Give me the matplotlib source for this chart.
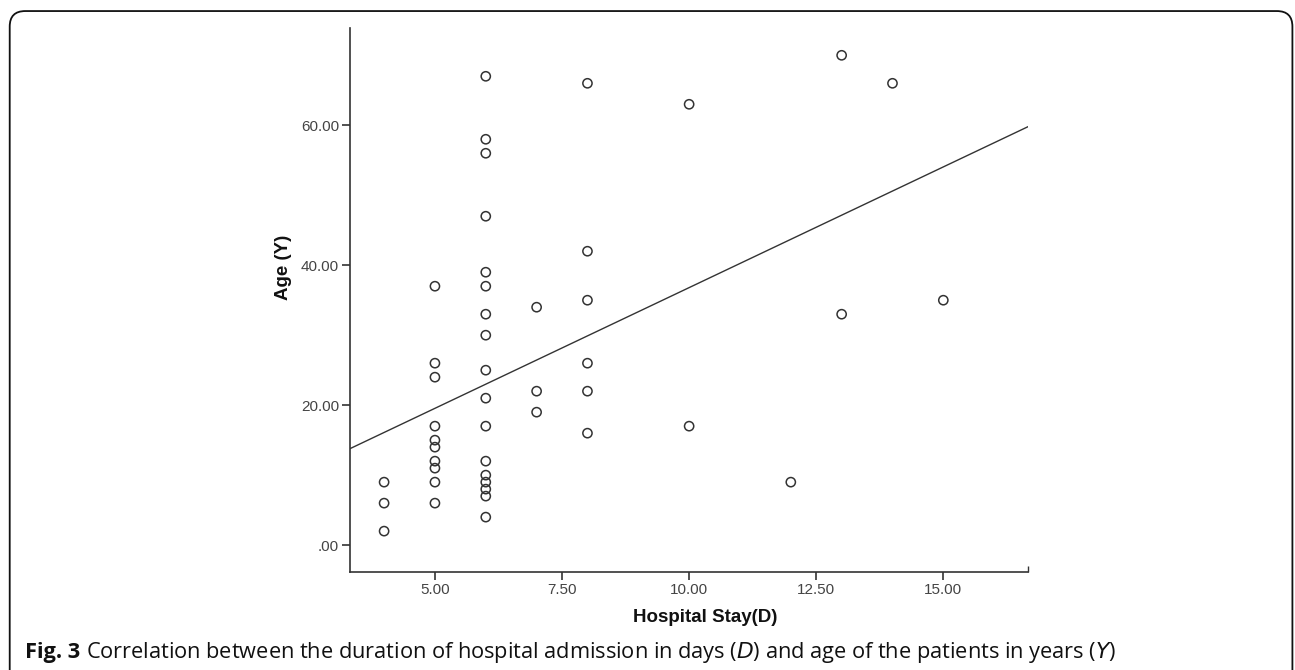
import matplotlib
matplotlib.use("Agg")
import matplotlib.pyplot as plt
from matplotlib.patches import FancyBboxPatch

# hospital stay (days) and age (years)
stay_days = [4, 4, 4,
             5, 5, 5, 5, 5, 5, 5, 5, 5, 5,
             6, 6, 6, 6, 6, 6, 6, 6, 6, 6, 6, 6, 6, 6, 6, 6, 6,
             7, 7, 7,
             8, 8, 8, 8, 8, 8,
             10, 10, 12, 13, 13, 14, 15]
age_years = [9, 6, 2,
             37, 26, 24, 17, 15, 14, 12, 11, 9, 6,
             67, 58, 56, 47, 39, 37, 33, 30, 25, 21, 17, 12, 10, 9, 8, 7, 4,
             34, 22, 19,
             66, 42, 35, 26, 22, 16,
             63, 17, 9, 70, 33, 66, 35]

# fit line as drawn in the figure
fit_intercept = 2.3
fit_slope = 3.45

x_ticks = [5, 7.5, 10, 12.5, 15]
x_tick_labels = ["5.00", "7.50", "10.00", "12.50", "15.00"]
y_ticks = [0, 20, 40, 60]
y_tick_labels = [".00", "20.00", "40.00", "60.00"]
x_range = (3.33, 16.66)
y_range = (-3.8, 73.9)

ink = "#333333"
arial = ["Liberation Sans", "DejaVu Sans"]

fig = plt.figure(figsize=(12.95, 6.70), dpi=100)
ax = fig.add_axes([0.2703, 0.1467, 0.5233, 0.8115])

ax.scatter(stay_days, age_years, s=44, facecolors="none", edgecolors=ink,
           linewidths=1.1, zorder=3)
ax.plot(x_range, [fit_intercept + fit_slope * v for v in x_range],
        color=ink, lw=1.0, zorder=2)

ax.set_xlim(*x_range)
ax.set_ylim(*y_range)
ax.set_xticks(x_ticks, x_tick_labels)
ax.set_yticks(y_ticks, y_tick_labels)
ax.set_xticks([x_range[1]], minor=True)
ax.tick_params(direction="out", length=6, width=1.2, colors=ink, pad=2,
               labelsize=11, labelcolor="#444444")
ax.tick_params(axis="x", which="minor", direction="in", length=4, width=1.0,
               colors=ink)
for lbl in ax.get_xticklabels() + ax.get_yticklabels():
    lbl.set_family(arial)
for side in ["top", "right"]:
    ax.spines[side].set_visible(False)
for side in ["left", "bottom"]:
    ax.spines[side].set_color(ink)
    ax.spines[side].set_linewidth(1.2)

fig.text(705 / 1295, 1 - 618 / 670, "Hospital Stay(D)", ha="center", va="center",
         fontsize=13.5, fontweight="bold", family=arial, color="#111111")
fig.text(283 / 1295, 1 - 267 / 670, "Age (Y)", ha="center", va="center", rotation=90,
         fontsize=13.5, fontweight="bold", family=arial, color="#111111")

# caption
cap_y = 1 - 658 / 670
fig.text(25 / 1295, cap_y, "Fig. 3", ha="left", va="baseline", fontsize=15.7,
         fontweight="bold", family="Open Sans", color="#111111")
fig.text(86 / 1295, cap_y,
         "Correlation between the duration of hospital admission in days ($\\it{D}$) "
         "and age of the patients in years ($\\it{Y}$)",
         ha="left", va="baseline", fontsize=15.7, family="Open Sans", color="#111111")

# rounded frame, open at the bottom
frame = FancyBboxPatch((0.0075, -0.05), 0.9905, 1.0335,
                       boxstyle="round,pad=0,rounding_size=0.012",
                       transform=fig.transFigure, fill=False,
                       edgecolor="#111111", lw=1.3, mutation_aspect=1.93)
fig.patches.append(frame)

fig.savefig("out.png", dpi=100)
